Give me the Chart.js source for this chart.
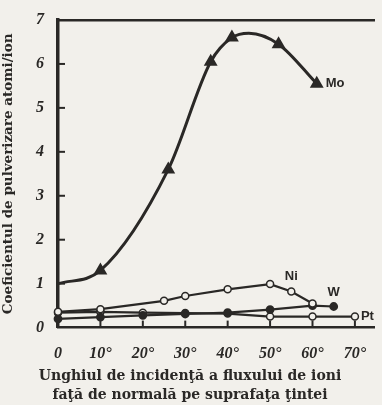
<!DOCTYPE html>
<html><head><meta charset="utf-8">
<script src="https://cdn.jsdelivr.net/npm/chart.js@4/dist/chart.umd.min.js"></script>
<style>html,body{margin:0;padding:0;background:#f2f0eb;}#wrap{width:382px;height:405px;}</style>
</head><body><div id="wrap"><canvas id="c" width="382" height="405"></canvas></div>
<script>
// Data
const moAngles = [0, 10, 26, 36, 41, 45, 52, 61];
const moValues = [1.0, 1.3, 3.6, 6.05, 6.6, 6.7, 6.45, 5.55];
const moMarked = [false, true, true, true, true, false, true, true];
const niAngles = [0, 10, 25, 30, 40, 50, 55, 60];
const niValues = [0.36, 0.42, 0.61, 0.72, 0.87, 0.99, 0.82, 0.55];
const wAngles = [0, 10, 20, 30, 40, 50, 60, 65];
const wValues = [0.2, 0.24, 0.28, 0.31, 0.34, 0.41, 0.5, 0.48];
const ptAngles = [0, 10, 20, 30, 40, 50, 60, 70];
const ptValues = [0.34, 0.36, 0.34, 0.33, 0.32, 0.25, 0.25, 0.25];
const xTickValues = [0, 10, 20, 30, 40, 50, 60, 70];
const yTickValues = [0, 1, 2, 3, 4, 5, 6, 7];
const seriesNames = ["Mo", "Ni", "W", "Pt"];
const xTitle = ['Unghiul de incidenţă a fluxului de ioni', 'faţă de normală pe suprafaţa ţintei'];
const yTitle = 'Coeficientul de pulverizare atomi/ion';

const pts = (xs, ys) => xs.map((x, i) => ({x: x, y: ys[i]}));
const ink = '#2a2826';
const bg = '#f2f0eb';
const tickFont = {family: 'Liberation Serif', size: 16, style: 'italic', weight: 'bold'};

const decor = {
  id: 'decor',
  afterDatasetsDraw(chart) {
    const ctx = chart.ctx, xs = chart.scales.x, ys = chart.scales.y, a = chart.chartArea;
    ctx.save();
    ctx.strokeStyle = ink; ctx.lineWidth = 2;
    xTickValues.forEach(v => { if (v === 0) return; const px = xs.getPixelForValue(v);
      ctx.beginPath(); ctx.moveTo(px, a.bottom); ctx.lineTo(px, a.bottom - 7); ctx.stroke(); });
    yTickValues.forEach(v => { if (v === 0 || v === 7) return; const py = ys.getPixelForValue(v);
      ctx.beginPath(); ctx.moveTo(a.left, py); ctx.lineTo(a.left + 7, py); ctx.stroke(); });
    ctx.fillStyle = ink;
    ctx.font = 'bold 13px "Liberation Sans"';
    ctx.textBaseline = 'middle';
    const at = (ds, idx) => chart.getDatasetMeta(ds).data[idx];
    let p = at(0, moAngles.length - 1); ctx.textAlign = 'left'; ctx.fillText(seriesNames[0], p.x + 9, p.y);
    p = at(1, 6); ctx.textAlign = 'center'; ctx.fillText(seriesNames[1], p.x, p.y - 15);
    p = at(2, wAngles.length - 1); ctx.textAlign = 'center'; ctx.fillText(seriesNames[2], p.x, p.y - 14);
    p = at(3, ptAngles.length - 1); ctx.textAlign = 'left'; ctx.fillText(seriesNames[3], p.x + 6, p.y);
    ctx.restore();
  }
};

new Chart(document.getElementById('c'), {
  type: 'line',
  data: {
    datasets: [
      {label: seriesNames[0], data: pts(moAngles, moValues), borderColor: ink, borderWidth: 3,
       cubicInterpolationMode: 'monotone', pointStyle: 'triangle', backgroundColor: ink,
       pointRadius: moMarked.map(m => m ? 5 : 0), pointBorderColor: ink},
      {label: seriesNames[1], data: pts(niAngles, niValues), borderColor: ink, borderWidth: 2.2,
       tension: 0, pointStyle: 'circle', pointRadius: 3.5, pointBackgroundColor: bg, pointBorderColor: ink, pointBorderWidth: 1.5},
      {label: seriesNames[2], data: pts(wAngles, wValues), borderColor: ink, borderWidth: 2.2,
       tension: 0, pointStyle: 'circle', pointRadius: 3.3, pointBackgroundColor: ink, pointBorderColor: ink},
      {label: seriesNames[3], data: pts(ptAngles, ptValues), borderColor: ink, borderWidth: 2.2,
       tension: 0, pointStyle: 'circle', pointRadius: 3.5, pointBackgroundColor: bg, pointBorderColor: ink, pointBorderWidth: 1.5}
    ]
  },
  options: {
    responsive: false, animation: false, clip: false,
    layout: {padding: {top: 20, right: 2, left: 0, bottom: 0}},
    plugins: {legend: {display: false}, tooltip: {enabled: false},
      title: {display: true, position: 'bottom', text: xTitle, color: ink,
        font: {family: 'DejaVu Serif', size: 14, weight: 'bold', lineHeight: 1.3}, padding: {top: 0, bottom: 1}}
    },
    scales: {
      x: {type: 'linear', min: 0, max: 74.5,
        afterBuildTicks: s => { s.ticks = xTickValues.map(v => ({value: v})); },
        afterFit: s => { s.height = 40; },
        border: {display: true, color: ink, width: 2.5},
        grid: {display: false},
        ticks: {color: ink, font: tickFont, padding: 9, maxRotation: 0,
          callback: v => v === 0 ? '0' : v + '°'}
      },
      x2: {type: 'linear', position: 'top', min: 0, max: 74.5, display: true,
        border: {display: true, color: ink, width: 2.5}, grid: {display: false},
        ticks: {display: false}, afterFit: s => { s.height = 0; }},
      y: {min: 0, max: 7,
        afterBuildTicks: s => { s.ticks = yTickValues.map(v => ({value: v})); },
        afterFit: s => { s.width = 58; },
        border: {display: true, color: ink, width: 3.5},
        grid: {display: false},
        ticks: {color: ink, font: tickFont, padding: 6},
        title: {display: true, text: yTitle, color: ink,
          font: {family: 'DejaVu Serif', size: 13.5, weight: 'bold'}, padding: {top: 0, bottom: 4}}
      }
    }
  },
  plugins: [decor]
});
</script></body></html>
